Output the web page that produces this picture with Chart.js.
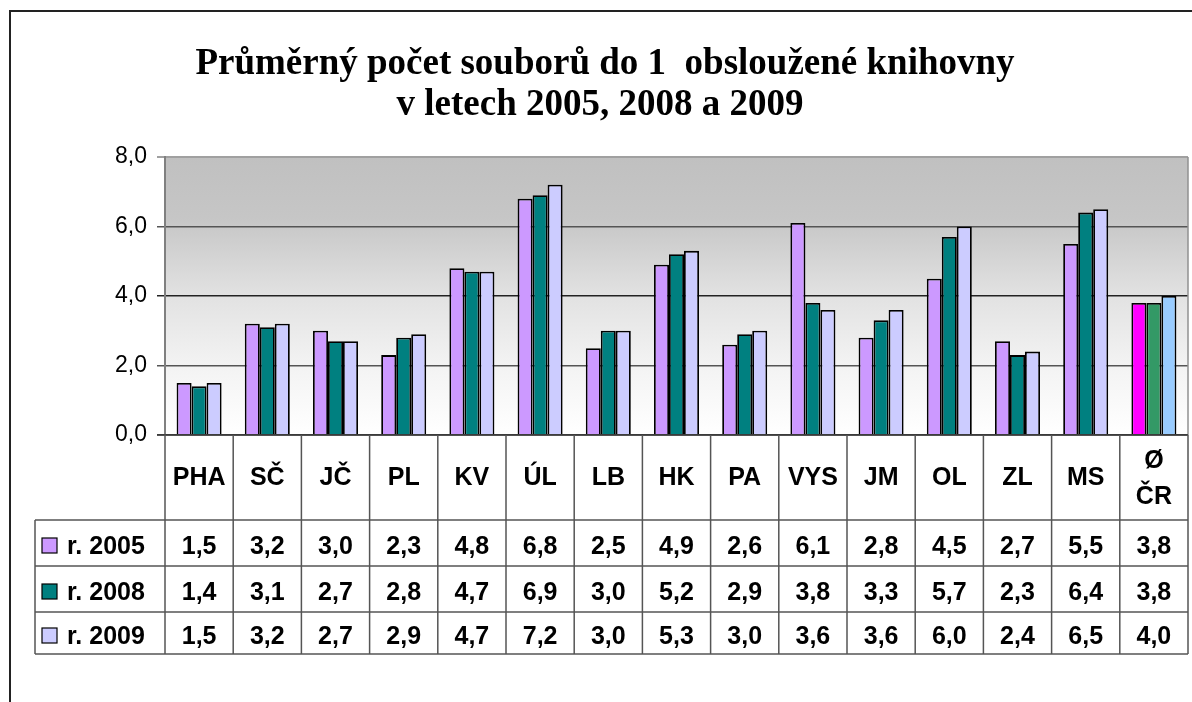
<!DOCTYPE html>
<html>
<head>
<meta charset="utf-8">
<script src="https://cdn.jsdelivr.net/npm/chart.js@4.4.0/dist/chart.umd.min.js"></script>
<style>
  html, body { margin: 0; padding: 0; background: #ffffff; }
  #wrap { position: relative; width: 1192px; height: 702px; }
</style>
</head>
<body>
<div id="wrap"><canvas id="c" width="1192" height="702"></canvas></div>
<script>
// ---- data ----
const titleLines = ['Průměrný počet souborů do 1  obsloužené knihovny', 'v letech 2005, 2008 a 2009'];
const categories = ['PHA', 'SČ', 'JČ', 'PL', 'KV', 'ÚL', 'LB', 'HK', 'PA', 'VYS', 'JM', 'OL', 'ZL', 'MS', ['Ø', 'ČR']];
const seriesNames = ['r. 2005', 'r. 2008', 'r. 2009'];
const values2005 = [1.5, 3.2, 3.0, 2.3, 4.8, 6.8, 2.5, 4.9, 2.6, 6.1, 2.8, 4.5, 2.7, 5.5, 3.8];
const values2008 = [1.4, 3.1, 2.7, 2.8, 4.7, 6.9, 3.0, 5.2, 2.9, 3.8, 3.3, 5.7, 2.3, 6.4, 3.8];
const values2009 = [1.5, 3.2, 2.7, 2.9, 4.7, 7.2, 3.0, 5.3, 3.0, 3.6, 3.6, 6.0, 2.4, 6.5, 4.0];
const yTicks = [0, 2, 4, 6, 8];

// ---- styles ----
const seriesColors = ['#CC99FF', '#008080', '#CCCCFF'];
const avgColors = ['#FF00FF', '#339966', '#99CCFF'];
const allValues = [values2005, values2008, values2009];

function fmt(v) { return v.toFixed(1).replace('.', ','); }

function colorsFor(i) {
  return categories.map((c, k) => k === categories.length - 1 ? avgColors[i] : seriesColors[i]);
}

const datasets = seriesNames.map((name, i) => ({
  label: name,
  data: allValues[i],
  backgroundColor: colorsFor(i),
  borderColor: '#000000',
  borderWidth: 1.8,
  categoryPercentage: 0.66,
  barPercentage: 1.0
}));

const decorPlugin = {
  id: 'decor',
  beforeDraw(chart) {
    const ctx = chart.ctx;
    const a = chart.chartArea;
    ctx.save();
    ctx.fillStyle = '#ffffff';
    ctx.fillRect(0, 0, chart.width, chart.height);
    // outer frame
    ctx.strokeStyle = '#222222';
    ctx.lineWidth = 2;
    ctx.beginPath();
    ctx.moveTo(10, 702);
    ctx.lineTo(10, 11);
    ctx.lineTo(1192, 11);
    ctx.stroke();
    // plot gradient
    const g = ctx.createLinearGradient(0, a.top, 0, a.bottom);
    g.addColorStop(0, '#c0c0c0');
    g.addColorStop(0.22, '#c6c6c6');
    g.addColorStop(0.5, '#e2e2e2');
    g.addColorStop(0.75, '#f3f3f3');
    g.addColorStop(1, '#ffffff');
    ctx.fillStyle = g;
    ctx.fillRect(a.left, a.top, a.right - a.left, a.bottom - a.top);
    // title
    ctx.fillStyle = '#000000';
    ctx.font = 'bold 37px "Liberation Serif", "Times New Roman", serif';
    ctx.textAlign = 'center';
    ctx.textBaseline = 'alphabetic';
    ctx.fillText(titleLines[0], 605, 74);
    ctx.fillText(titleLines[1], 600, 115);
    ctx.restore();
  },
  afterDatasetsDraw(chart) {
    const ctx = chart.ctx;
    const a = chart.chartArea;
    const x = chart.scales.x;
    const n = categories.length;
    const slot = (a.right - a.left) / n;
    const rowTops = [a.bottom, 520, 566, 612];
    const tableBottom = 654;
    const legendLeft = 35;
    ctx.save();
    // plot border (right)
    ctx.strokeStyle = '#909090';
    ctx.lineWidth = 1.5;
    ctx.beginPath();
    ctx.moveTo(a.right, a.top);
    ctx.lineTo(a.right, a.bottom);
    ctx.stroke();
    // x axis line
    ctx.strokeStyle = '#333333';
    ctx.lineWidth = 1.5;
    ctx.beginPath();
    ctx.moveTo(a.left - 8, a.bottom);
    ctx.lineTo(a.right, a.bottom);
    ctx.stroke();
    // table grid
    ctx.strokeStyle = '#555555';
    ctx.lineWidth = 1.5;
    ctx.beginPath();
    for (let k = 0; k <= n; k++) {
      const px = k < n ? x.getPixelForValue(k) - slot / 2 : x.getPixelForValue(n - 1) + slot / 2;
      ctx.moveTo(px, a.bottom);
      ctx.lineTo(px, tableBottom);
    }
    ctx.moveTo(legendLeft, rowTops[1]);
    ctx.lineTo(legendLeft, tableBottom);
    for (let r = 1; r < rowTops.length; r++) {
      ctx.moveTo(legendLeft, rowTops[r]);
      ctx.lineTo(a.right, rowTops[r]);
    }
    ctx.moveTo(legendLeft, tableBottom);
    ctx.lineTo(a.right, tableBottom);
    ctx.stroke();
    // header labels
    ctx.fillStyle = '#000000';
    ctx.font = 'bold 25px "Liberation Sans", Arial, sans-serif';
    ctx.textAlign = 'center';
    ctx.textBaseline = 'middle';
    categories.forEach((c, k) => {
      const px = x.getPixelForValue(k);
      const mid = (rowTops[0] + rowTops[1]) / 2;
      if (Array.isArray(c)) {
        ctx.fillText(c[0], px, mid - 16);
        ctx.fillText(c[1], px, mid + 20);
      } else {
        ctx.fillText(c, px, mid + 1);
      }
    });
    // rows
    for (let r = 0; r < 3; r++) {
      const top = rowTops[r + 1];
      const bot = r + 2 < rowTops.length ? rowTops[r + 2] : tableBottom;
      const mid = (top + bot) / 2 + 4;
      // legend key
      ctx.fillStyle = seriesColors[r];
      ctx.fillRect(42, mid - 9, 15, 15);
      ctx.strokeStyle = '#000000';
      ctx.lineWidth = 1.2;
      ctx.strokeRect(42, mid - 9, 15, 15);
      ctx.fillStyle = '#000000';
      ctx.textAlign = 'left';
      ctx.fillText(seriesNames[r], 67, mid);
      ctx.textAlign = 'center';
      allValues[r].forEach((v, k) => {
        ctx.fillText(fmt(v), x.getPixelForValue(k), mid);
      });
    }
    ctx.restore();
  }
};

new Chart(document.getElementById('c'), {
  type: 'bar',
  data: { labels: categories, datasets: datasets },
  options: {
    responsive: false,
    animation: false,
    events: [],
    layout: { padding: { left: 0, right: 4, top: 157, bottom: 0 } },
    plugins: {
      legend: { display: false },
      title: { display: false },
      tooltip: { enabled: false }
    },
    scales: {
      x: {
        ticks: { display: false },
        grid: { display: false, drawTicks: false },
        border: { display: false },
        afterFit(scale) { scale.height = 702 - 435; }
      },
      y: {
        min: 0,
        max: 8,
        afterBuildTicks(scale) { scale.ticks = yTicks.map(v => ({ value: v })); },
        afterFit(scale) { scale.width = 165; },
        ticks: {
          padding: 10,
          color: '#000000',
          font: { family: '"Liberation Sans", Arial, sans-serif', size: 23 },
          callback: (v) => fmt(v)
        },
        grid: {
          tickLength: 8,
          lineWidth: (c) => (c.tick && c.tick.value === 8 ? 2 : 1.5),
          color: (c) => (c.tick && c.tick.value === 8 ? '#a0a0a0' : (c.tick && c.tick.value === 4 ? '#222222' : '#555555'))
        },
        border: { display: true, color: '#808080', width: 2 }
      }
    }
  },
  plugins: [decorPlugin]
});
</script>
</body>
</html>
